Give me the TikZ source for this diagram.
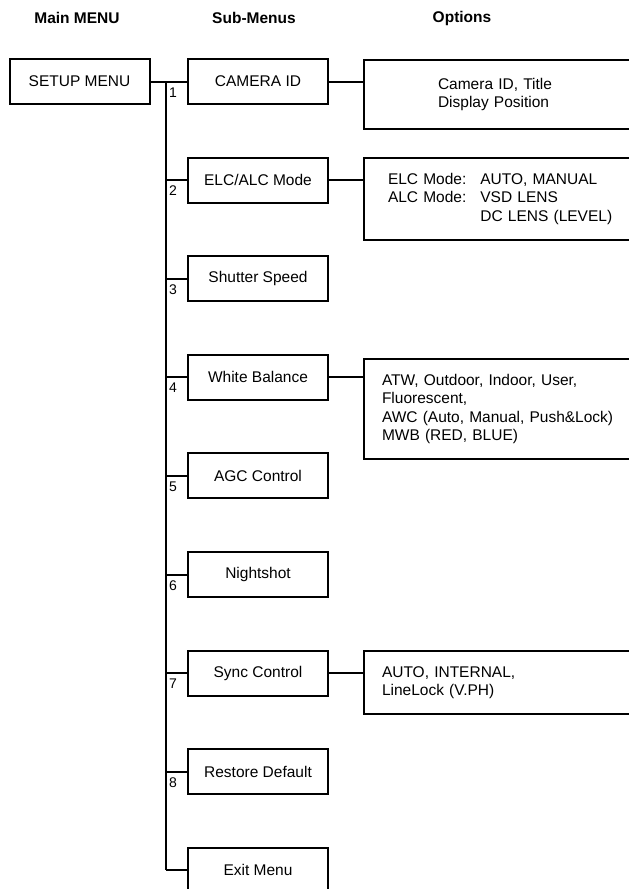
\documentclass[tikz,border=0pt]{standalone}
\usepackage{fontspec}
\setmainfont{Liberation Sans}
\usetikzlibrary{positioning}

\tikzset{
  menubox/.style={draw, line width=2pt, minimum width=140pt, minimum height=45pt, inner sep=2pt},
  optbox/.style={draw, line width=2pt, anchor=north west, minimum width=330pt, align=left},
  head/.style={font=\fontsize{15.5}{18.5}\selectfont\bfseries},
  numlabel/.style={anchor=north west, inner xsep=2pt, inner ysep=5pt, font=\fontsize{14}{16}\selectfont},
}

\begin{document}
\begin{tikzpicture}[x=1pt, y=-1pt, font=\fontsize{15.5}{18.5}\selectfont, line width=2pt]
  \clip (0,0) rectangle (629,889);
  % Headers
  \node[head] (hmain) at (77,18) {Main MENU};
  \node[head] (hsub) at (254,18) {Sub-Menus};
  \node[head] (hopt) at (462,18) {Options};
  % Main menu
  \node[menubox] (setup) at (79.5,81.5) {SETUP MENU};
  % Sub-menus
  \foreach \name [count=\i] in {CAMERA ID, ELC/ALC Mode, Shutter Speed, White Balance,
      AGC Control, Nightshot, Sync Control, Restore Default, Exit Menu}
    \node[menubox] (s\i) at (258,{81.5+98.6*(\i-1)}) {\name};
  % Options
  \node[optbox, minimum height=69pt, text width=182pt, inner xsep=74pt] (o1) at (363,59)
    {Camera ID, Title\\Display Position};
  \node[optbox, minimum height=82pt, text width=282pt, inner xsep=24pt] (o2) at (363,157)
    {\begin{tabular}{@{}l@{\hspace{14pt}}l@{}}
      ELC Mode: & AUTO, MANUAL\\
      ALC Mode: & VSD LENS\\
                & DC LENS (LEVEL)
     \end{tabular}};
  \node[optbox, minimum height=100pt, text width=294pt, inner xsep=18pt] (o4) at (363,358)
    {ATW, Outdoor, Indoor, User,\\Fluorescent,\\AWC (Auto, Manual, Push\&Lock)\\MWB (RED, BLUE)};
  \node[optbox, minimum height=63pt, text width=294pt, inner xsep=18pt] (o7) at (363,650)
    {AUTO, INTERNAL,\\LineLock (V.PH)};
  \draw (s1.east) -- (s1.east -| o1.west);
  \draw (s2.east) -- (s2.east -| o2.west);
  \draw (s4.east) -- (s4.east -| o4.west);
  \draw (s7.east) -- (s7.east -| o7.west);
  % Trunk and branches
  \coordinate (trunk) at (166,81.5);
  \draw (setup.east) -- (s1.west);
  \draw (trunk) -- (trunk |- s9.west);
  \foreach \i in {2,...,9}
    \draw (trunk |- s\i.west) -- (s\i.west);
  \foreach \i in {1,...,8}
    \node[numlabel] (n\i) at (trunk |- s\i.west) {\i};
\end{tikzpicture}
\end{document}
